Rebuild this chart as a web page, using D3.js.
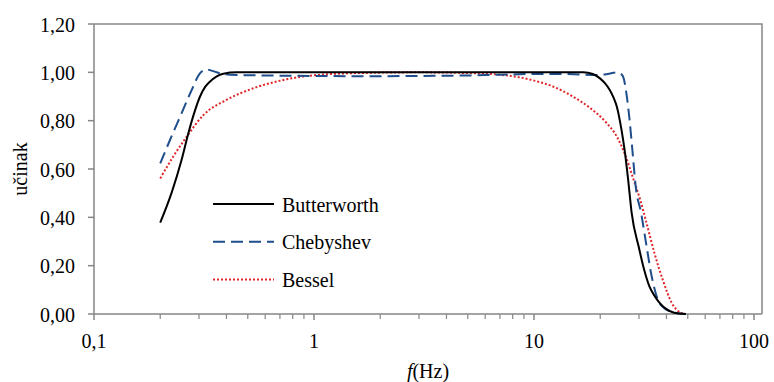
<!DOCTYPE html>
<html><head><meta charset="utf-8">
<script src="https://cdn.jsdelivr.net/npm/d3@7"></script>
</head>
<body style="margin:0">
<svg id="c" width="774" height="382"></svg>
<script>
const xTickLabels = ["0,1","1","10","100"];
const yTicks = [0,0.2,0.4,0.6,0.8,1.0,1.2];
const seriesNames = ["Butterworth","Chebyshev","Bessel"];

const butterF = [0.2,0.225,0.25,0.2685,0.285,0.303,0.32,0.336,0.36,0.387,0.445,0.6,1,3,10,16.75,18.5,19.95,21,22.1,23,23.8,25.0,25.8,26.8,27.8,29.9,31.7,33.5,35.5,37.4,40,43.3,46,49];
const butterV = [0.378,0.50,0.637,0.748,0.83,0.899,0.94,0.961,0.982,0.994,1.0,1.0,1.0,1.0,1.0,1.0,0.993,0.975,0.955,0.927,0.895,0.858,0.761,0.68,0.554,0.417,0.279,0.182,0.113,0.072,0.044,0.02,0.005,0.002,0.0];

const chebF = [0.2,0.2215,0.25,0.278,0.303,0.315,0.325,0.34,0.361,0.415,0.6,1,2,3,5,7,10,14,19.2,21.3,23,23.8,24.6,25.4,26.3,27.1,28.0,29.0,30.7,32.5,34.3,36.6,39,41.7,45,49];
const chebV = [0.623,0.72,0.83,0.927,0.996,1.008,1.012,1.008,1.0,0.99,0.987,0.985,0.984,0.985,0.987,0.99,0.993,0.993,0.989,0.992,0.998,1.0,0.996,0.982,0.913,0.816,0.679,0.527,0.417,0.279,0.154,0.058,0.025,0.01,0.003,0.0];

const besselF = [0.2,0.229,0.264,0.314,0.4,0.53,0.75,1.06,1.8,3,5,7,8.5,9.9,12.3,15,18,21.3,23.8,25.8,28.4,30.4,32.5,35.3,38.5,42.4,46.5,49];
const besselV = [0.561,0.651,0.734,0.823,0.886,0.934,0.971,0.99,0.998,1.0,0.997,0.99,0.98,0.967,0.94,0.9,0.852,0.792,0.734,0.665,0.554,0.472,0.375,0.251,0.141,0.044,0.005,0.0];

const svg = d3.select("#c");
const FONT = '"Liberation Serif"';
const FS = 20;
const L = 94, R = 762, T = 24, B = 314;
const x = d3.scaleLog().domain([0.1,100]).range([L,754]);
const y = d3.scaleLinear().domain([0,1.2]).range([B,T]);
const axisColor = "#868686";

function txt(sel){ return sel.attr("font-size",FS).style("font-family",FONT).attr("fill","#000"); }

svg.append("path").attr("d",`M${L},${T}H${R}V${B}`).attr("fill","none").attr("stroke",axisColor).attr("stroke-width",1.5);

// y axis (drawn manually from the scale)
const yg = svg.append("g");
yg.append("line").attr("x1",L).attr("x2",L).attr("y1",T).attr("y2",B).attr("stroke",axisColor).attr("stroke-width",1.5);
yg.selectAll(".yt").data(yTicks).join("line").attr("x1",L-6).attr("x2",L).attr("y1",d=>y(d)).attr("y2",d=>y(d)).attr("stroke",axisColor).attr("stroke-width",1.5);
txt(yg.selectAll(".yl").data(yTicks).join("text").attr("x",L-19).attr("y",d=>y(d)).attr("dy","0.38em").attr("text-anchor","end")
  .text(d=>d3.format(".2f")(d).replace(".",",")));

const majors = [0.1,1,10,100];
const minors = [];
[0.1,1,10].forEach(d=>{for(let k=2;k<=9;k++) minors.push(d*k);});
const xg = svg.append("g");
xg.append("line").attr("x1",L).attr("x2",R).attr("y1",B).attr("y2",B).attr("stroke",axisColor).attr("stroke-width",1.5);
xg.selectAll(".mn").data(minors).join("line").attr("x1",d=>x(d)).attr("x2",d=>x(d)).attr("y1",B).attr("y2",B+5).attr("stroke",axisColor).attr("stroke-width",1.2);
xg.selectAll(".mj").data(majors).join("line").attr("x1",d=>x(d)).attr("x2",d=>x(d)).attr("y1",B).attr("y2",B+6).attr("stroke",axisColor).attr("stroke-width",1.5);
txt(xg.selectAll(".lb").data(majors).join("text").attr("x",d=>x(d)).attr("y",B+34).attr("text-anchor","middle").text((d,i)=>xTickLabels[i]));

const xt = txt(svg.append("text").attr("x",(L+R)/2).attr("y",378).attr("text-anchor","middle"));
xt.append("tspan").style("font-style","italic").text("f");
xt.append("tspan").text("(Hz)");
txt(svg.append("text").attr("transform",`translate(27,${(T+B)/2}) rotate(-90)`).attr("text-anchor","middle").text("učinak"));

const line = d3.line().x(d=>x(d[0])).y(d=>y(d[1])).curve(d3.curveMonotoneX);
const styles = [
  {color:"#000000", dash:null, w:2},
  {color:"#1f4e8c", dash:"12,6", w:2},
  {color:"#e0262a", dash:"2,2", w:2}
];
const data = [d3.zip(butterF,butterV), d3.zip(chebF,chebV), d3.zip(besselF,besselV)];
[2,1,0].forEach(i=>{
  svg.append("path").attr("d",line(data[i])).attr("fill","none")
    .attr("stroke",styles[i].color).attr("stroke-width",styles[i].w)
    .attr("stroke-dasharray",styles[i].dash);
});

const lg = svg.append("g");
seriesNames.forEach((n,i)=>{
  const yy = 204 + i*37.7;
  lg.append("line").attr("x1",213).attr("x2",274).attr("y1",yy).attr("y2",yy)
    .attr("stroke",styles[i].color).attr("stroke-width",styles[i].w).attr("stroke-dasharray",styles[i].dash);
  txt(lg.append("text").attr("x",282).attr("y",yy+7.5).text(n));
});
</script></body></html>
